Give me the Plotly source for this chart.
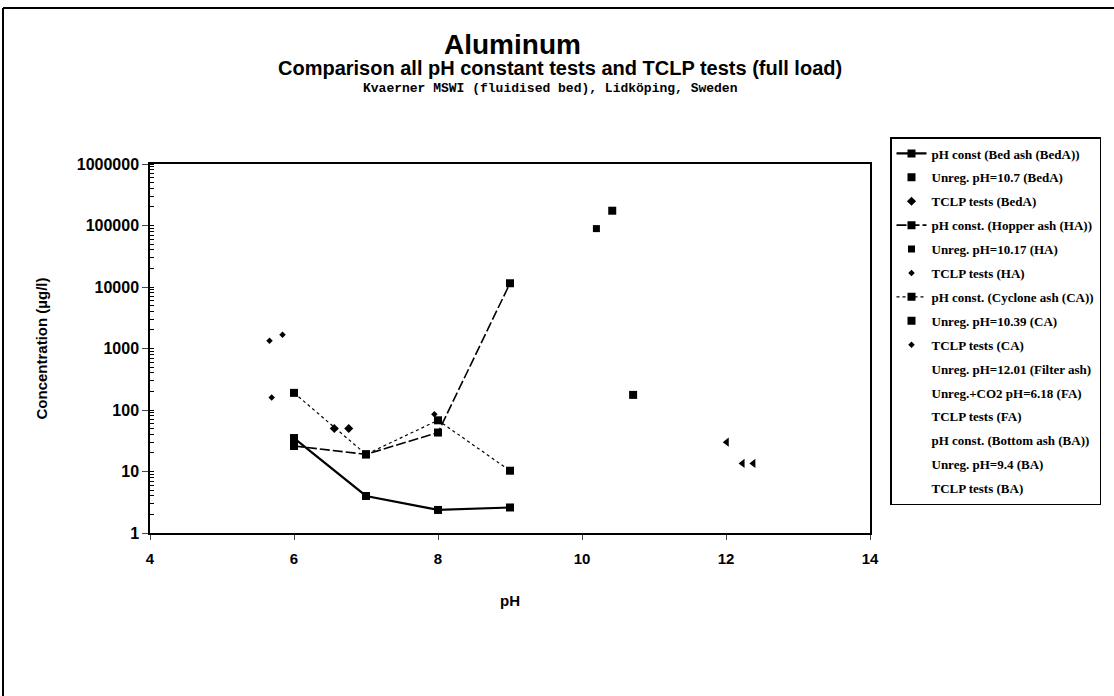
import plotly.graph_objects as go

# ---- data ----
bed_ph = [6, 7, 8, 9]
bed_conc = [35, 4.0, 2.37, 2.6]

hop_ph = [6, 7, 8, 9]
hop_conc = [26, 19, 43, 11500]

cyc_ph = [6, 7, 8, 9]
cyc_conc = [190, 19, 68, 10.3]

unreg_beda_ph = [10.71]
unreg_beda_conc = [176]
tclp_beda_ph = [6.56, 6.76]
tclp_beda_conc = [50, 50]

unreg_ha_ph = [10.2]
unreg_ha_conc = [89000]
tclp_ha_ph = [5.66, 5.84]
tclp_ha_conc = [1340, 1680]

unreg_ca_ph = [10.42]
unreg_ca_conc = [174000]
tclp_ca_ph = [5.69, 7.95]
tclp_ca_conc = [160, 85]

unreg_fa_ph = [12.01]
unreg_fa_conc = [30]
tclp_fa_ph = [12.23, 12.38]
tclp_fa_conc = [13.5, 13.5]

ytick_vals = [1, 10, 100, 1000, 10000, 100000, 1000000]
ytick_text = ["1", "10", "100", "1000", "10000", "100000", "1000000"]
xtick_vals = [4, 6, 8, 10, 12, 14]

names = [
    "pH const (Bed ash (BedA))",
    "Unreg. pH=10.7 (BedA)",
    "TCLP tests (BedA)",
    "pH const. (Hopper ash (HA))",
    "Unreg. pH=10.17 (HA)",
    "TCLP tests (HA)",
    "pH const. (Cyclone ash (CA))",
    "Unreg. pH=10.39 (CA)",
    "TCLP tests (CA)",
    "Unreg. pH=12.01 (Filter ash)",
    "Unreg.+CO2 pH=6.18 (FA)",
    "TCLP tests (FA)",
    "pH const. (Bottom ash (BA))",
    "Unreg. pH=9.4 (BA)",
    "TCLP tests (BA)",
]

fig = go.Figure()
blk = "black"

def add(i, x, y, mode, marker=None, line=None, legend_marker=True):
    kw = dict(name=names[i], legendgroup="g%d" % i, mode=mode, x=x, y=y)
    if marker is not None:
        kw["marker"] = marker
    if line is not None:
        kw["line"] = line
    if legend_marker:
        fig.add_trace(go.Scatter(**kw))
    else:
        kw["showlegend"] = False
        fig.add_trace(go.Scatter(**kw))
        fig.add_trace(go.Scatter(name=names[i], legendgroup="g%d" % i, x=[None], y=[None],
                                 mode="markers", marker=dict(size=1, color="rgba(0,0,0,0)")))

add(0, bed_ph, bed_conc, "lines+markers",
    marker=dict(symbol="square", size=8, color=blk), line=dict(color=blk, width=2.2))
add(1, unreg_beda_ph, unreg_beda_conc, "markers", marker=dict(symbol="square", size=8, color=blk))
add(2, tclp_beda_ph, tclp_beda_conc, "markers", marker=dict(symbol="diamond", size=7, color=blk))
add(3, hop_ph, hop_conc, "lines+markers",
    marker=dict(symbol="square", size=8, color=blk), line=dict(color=blk, width=1.6, dash="10px,3px"))
add(4, unreg_ha_ph, unreg_ha_conc, "markers", marker=dict(symbol="square", size=7, color=blk))
add(5, tclp_ha_ph, tclp_ha_conc, "markers", marker=dict(symbol="diamond", size=5, color=blk))
add(6, cyc_ph, cyc_conc, "lines+markers",
    marker=dict(symbol="square", size=8, color=blk), line=dict(color=blk, width=1.2, dash="dot"))
add(7, unreg_ca_ph, unreg_ca_conc, "markers", marker=dict(symbol="square", size=8, color=blk))
add(8, tclp_ca_ph, tclp_ca_conc, "markers", marker=dict(symbol="diamond", size=5, color=blk))
add(9, unreg_fa_ph, unreg_fa_conc, "markers",
    marker=dict(symbol="triangle-left", size=8, color=blk), legend_marker=False)
add(10, [None], [None], "markers", marker=dict(size=1, color="rgba(0,0,0,0)"))
add(11, tclp_fa_ph, tclp_fa_conc, "markers",
    marker=dict(symbol="triangle-left", size=8, color=blk), legend_marker=False)
add(12, [None], [None], "markers", marker=dict(size=1, color="rgba(0,0,0,0)"))
add(13, [None], [None], "markers", marker=dict(size=1, color="rgba(0,0,0,0)"))
add(14, [None], [None], "markers", marker=dict(size=1, color="rgba(0,0,0,0)"))

W, H = 1114, 696
L, R, T, B = 150, 244, 164, 163
pw, ph = W - L - R, H - T - B

def px(xp):
    return (xp - L) / pw

def py(yp):
    return (H - B - yp) / ph

sans = "Liberation Sans"
serif = "Liberation Serif"

fig.update_layout(
    width=W, height=H,
    margin=dict(l=L, r=R, t=T, b=B),
    paper_bgcolor="white", plot_bgcolor="white",
    font=dict(family=sans, color=blk, size=14),
    showlegend=True,
    legend=dict(
        x=px(890), y=py(137), xanchor="left", yanchor="top",
        bgcolor="white", bordercolor=blk, borderwidth=1.5,
        font=dict(family=serif, size=13, weight="bold", color=blk),
        tracegroupgap=4, itemwidth=30, maxheight=600,
    ),
    xaxis=dict(
        range=[4, 14], tickvals=xtick_vals, ticks="outside", ticklen=5,
        ticklabelstandoff=6,
        showline=True, linecolor=blk, linewidth=1.5, mirror=True,
        showgrid=False, zeroline=False,
        tickfont=dict(family=sans, size=15, weight="bold"),
        title=dict(text="pH", font=dict(family=sans, size=15, weight="bold"), standoff=30),
    ),
    yaxis=dict(
        type="log", range=[0, 6], tickvals=ytick_vals, ticktext=ytick_text,
        ticks="outside", ticklen=6,
        minor=dict(ticks="inside", ticklen=4, tickcolor=blk, dtick="D1", showgrid=False),
        showline=True, linecolor=blk, linewidth=1.5, mirror=True,
        showgrid=False, zeroline=False,
        tickfont=dict(family=sans, size=16, weight="bold"),
        title=dict(text="Concentration (µg/l)", font=dict(family=sans, size=15, weight="bold"), standoff=26),
    ),
    annotations=[
        dict(text="<b>Aluminum</b>", x=px(512), y=py(44), xref="paper", yref="paper",
             xanchor="center", yanchor="middle",
             showarrow=False, font=dict(family=sans, size=28, color=blk)),
        dict(text="<b>Comparison all pH constant tests and TCLP tests (full load)</b>",
             x=px(560), y=py(68), xref="paper", yref="paper", showarrow=False,
             xanchor="center", yanchor="middle",
             font=dict(family=sans, size=20, color=blk)),
        dict(text="<b>Kvaerner MSWI (fluidised bed), Lidköping, Sweden</b>",
             x=px(550), y=py(89), xref="paper", yref="paper", showarrow=False,
             xanchor="center", yanchor="middle",
             font=dict(family="Liberation Mono", size=13, color=blk)),
    ],
    shapes=[
        dict(type="line", xref="paper", yref="paper",
             x0=px(3), x1=px(1114), y0=py(8), y1=py(8),
             line=dict(color=blk, width=2)),
        dict(type="line", xref="paper", yref="paper",
             x0=px(3), x1=px(3), y0=py(8), y1=py(696),
             line=dict(color=blk, width=2)),
    ],
)

fig.write_html("out.html")
